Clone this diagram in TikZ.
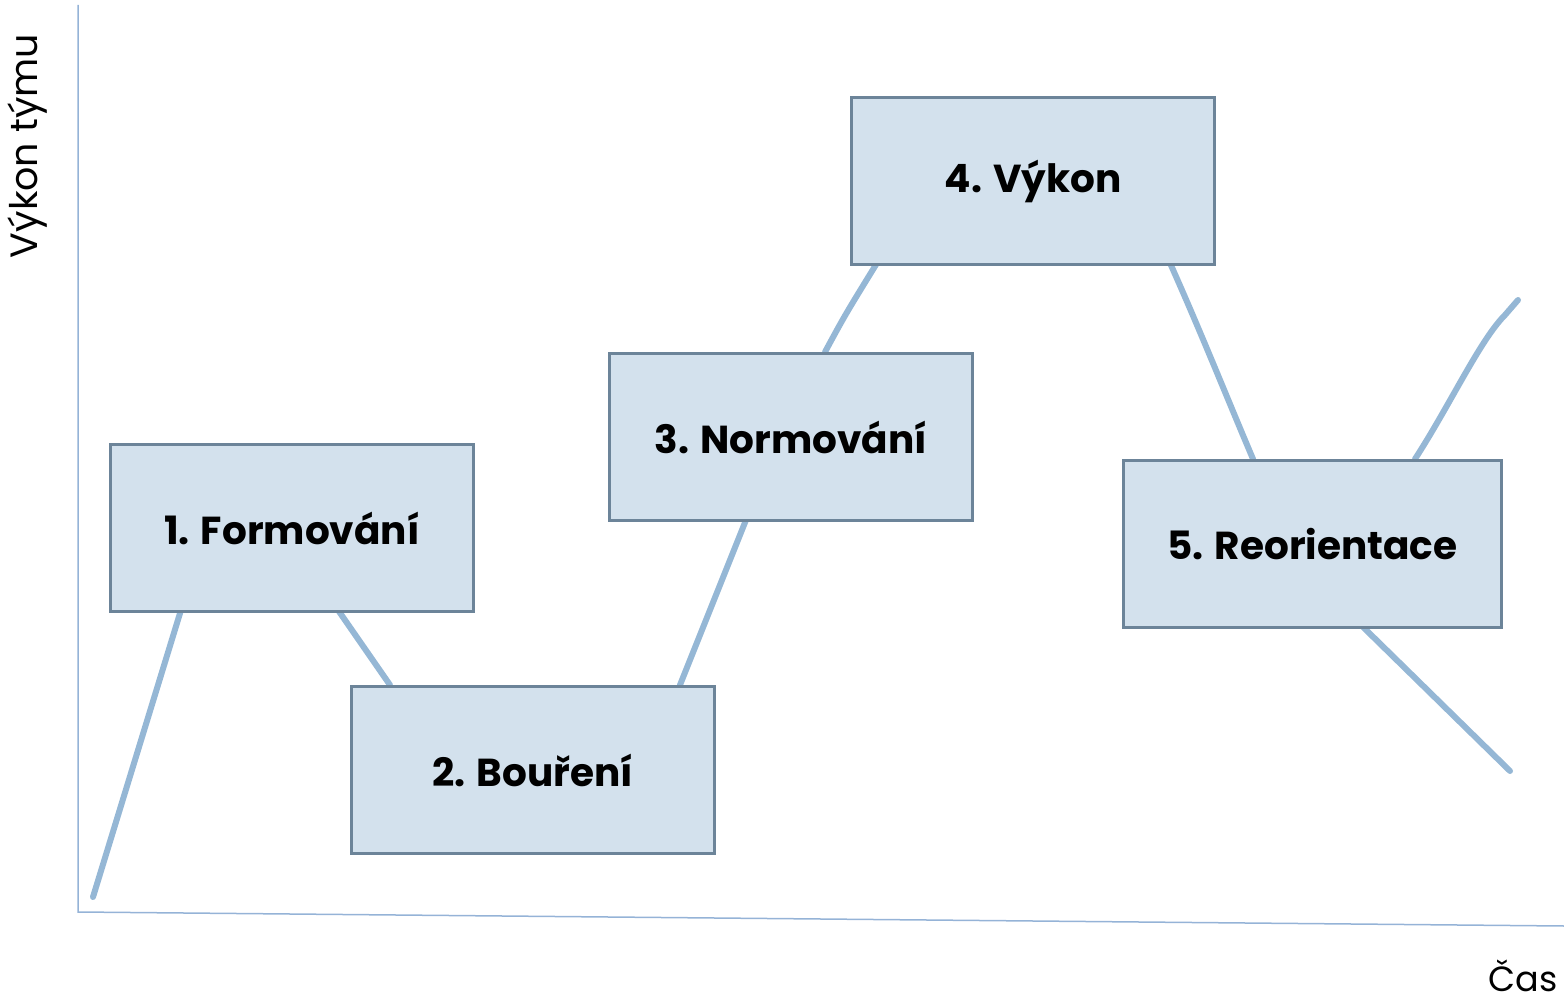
\documentclass[tikz,border=0pt]{standalone}
\usepackage{fontspec}
\setmainfont{Poppins}
\usetikzlibrary{calc}
\definecolor{axisc}{HTML}{95B3D7}
\definecolor{curvec}{HTML}{95B7D5}
\definecolor{boxfill}{HTML}{D3E1ED}
\definecolor{boxdraw}{HTML}{6C8499}
\tikzset{
  stage/.style={draw=boxdraw, fill=boxfill, line width=3pt, minimum width=363pt, minimum height=167pt, inner sep=0pt, anchor=north west},
  stagetext/.style={font=\fontsize{39}{46}\selectfont\bfseries, inner sep=0pt},
  curve/.style={draw=curvec, line width=6pt, line cap=round},
  axis/.style={draw=axisc, line width=1.5pt},
  lbl/.style={font=\fontsize{38}{44}\selectfont, inner sep=0pt}
}
\begin{document}
\begin{tikzpicture}[x=1pt,y=-1pt]
\useasboundingbox (0,0) rectangle (1564,1003);
% axes
\coordinate (top) at (78,5);
\coordinate (orig) at (78,912);
\coordinate (xend) at (1564,926);
\draw[axis] (top) -- (orig) -- (xend);
\node[lbl, rotate=90] (ylab) at (28,146) {Výkon týmu};
\node[lbl, font=\fontsize{35}{40}\selectfont] (xlab) at (1523,976) {Čas};
% boxes
\coordinate (p1) at (109,443);
\coordinate (p2) at (350,685);
\coordinate (p3) at (608,352);
\coordinate (p4) at (850,96);
\coordinate (p5) at (1122,459);
% free ends
\coordinate (start) at (93,897);
\coordinate (up) at (1518,300);
\coordinate (down) at (1510,771);
% connectors (behind boxes)
\draw[curve] (start) -- (181,610);
\draw[curve] (338,610) -- (390,685);
\draw[curve] (680,685) -- (746,520);
\draw[curve] (825,352) .. controls (845,315) .. (877,263);
\draw[curve] (1170,263) .. controls (1200,330) and (1230,405) .. (1253,459);
\draw[curve] (1415,459) .. controls (1450,405) and (1480,340) .. (1505,315) -- (up);
\draw[curve] (1362,626) -- (down);
\node[stage] (b1) at (p1) {};
\node[stage] (b2) at (p2) {};
\node[stage] (b3) at (p3) {};
\node[stage] (b4) at (p4) {};
\node[stage, minimum width=378pt] (b5) at (p5) {};
\node[stagetext] (t1) at (b1.center) {1. Formování};
\node[stagetext] (t2) at (b2.center) {2. Bouření};
\node[stagetext] (t3) at (b3.center) {3. Normování};
\node[stagetext] (t4) at (b4.center) {4. Výkon};
\node[stagetext] (t5) at (b5.center) {5. Reorientace};
\end{tikzpicture}
\end{document}
